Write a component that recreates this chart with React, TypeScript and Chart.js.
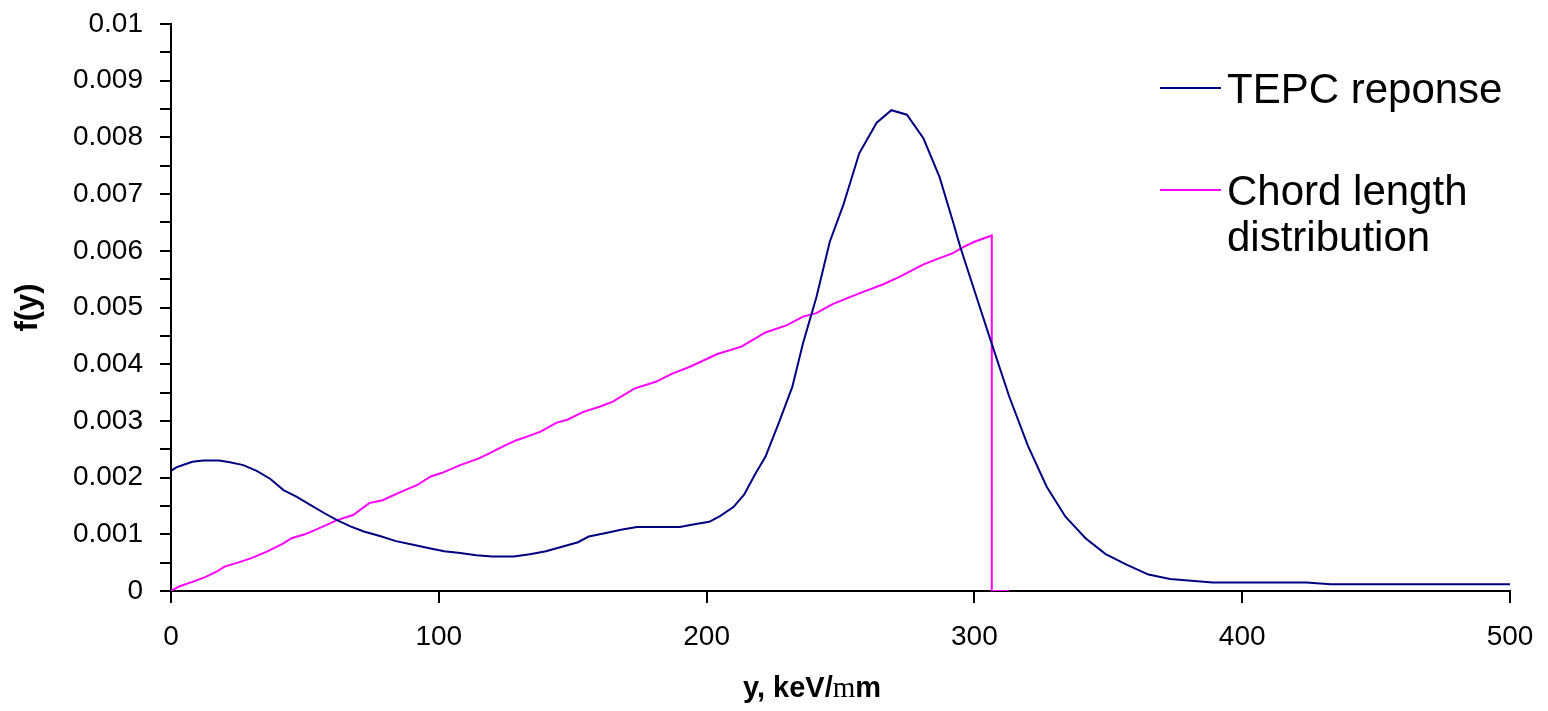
import { useEffect, useRef } from 'react';
import { Chart, registerables } from 'chart.js';

Chart.register(...registerables);

// ---- data ----
const tepcX = [
  0, 2, 5, 8, 12, 18, 22, 27, 32, 37, 42, 47, 52, 57, 62, 67, 72, 78, 84, 90, 96, 102, 108, 114, 120, 128,
  134, 140, 146, 152, 156, 162, 168, 174, 182, 190, 196, 201, 205, 210, 214, 218, 222, 227, 232, 236, 241,
  246, 251, 257, 263.5, 269, 274.8, 281, 287, 292.2, 294.7, 300, 306, 313, 320, 327, 334, 341.5, 349, 357,
  365, 373, 381, 389, 424, 433, 500,
];
const tepcY = [
  0.00212, 0.00218, 0.00223, 0.00228, 0.0023, 0.0023, 0.00227, 0.00222, 0.00212, 0.00198, 0.00178, 0.00166,
  0.00152, 0.00138, 0.00125, 0.00114, 0.00105, 0.00097, 0.00088, 0.00082, 0.00076, 0.0007, 0.00067, 0.00063,
  0.00061, 0.00061, 0.00065, 0.0007, 0.00078, 0.00086, 0.00096, 0.00102, 0.00108, 0.00113, 0.00113, 0.00113,
  0.00118, 0.00122, 0.00132, 0.00148, 0.0017, 0.00205, 0.00237, 0.00297, 0.0036, 0.00437, 0.00518, 0.00616,
  0.0068, 0.00772, 0.00826, 0.00848, 0.0084, 0.00798, 0.0073, 0.00648, 0.00607, 0.0053, 0.00443, 0.00343,
  0.00256, 0.00184, 0.00131, 0.00093, 0.00065, 0.00046, 0.00029, 0.00021, 0.00018, 0.00015, 0.00015,
  0.00012, 0.00012,
];
const chordX = [
  0, 3, 8, 13, 17, 20, 25, 30, 36, 42, 45, 50, 55, 62, 68, 74, 79, 85, 92, 97, 101, 108, 115, 119, 124, 129,
  134, 138, 144, 148, 154, 160, 165, 173, 181, 187, 194, 204, 213, 222, 230, 236, 241, 247, 257, 266, 272,
  281, 287, 292, 296, 300, 306.5, 306.5, 313,
];
const chordY = [
  0, 0.00008, 0.00016, 0.00025, 0.00034, 0.00043, 0.0005, 0.00058, 0.0007, 0.00084, 0.00093, 0.001, 0.0011,
  0.00125, 0.00134, 0.00155, 0.0016, 0.00173, 0.00187, 0.00202, 0.00208, 0.00222, 0.00234, 0.00243, 0.00255,
  0.00266, 0.00274, 0.00281, 0.00297, 0.00302, 0.00316, 0.00325, 0.00334, 0.00357, 0.00369, 0.00383,
  0.00396, 0.00418, 0.00431, 0.00456, 0.00469, 0.00484, 0.0049, 0.00506, 0.00525, 0.00541, 0.00554,
  0.00576, 0.00587, 0.00596, 0.00607, 0.00616, 0.00627, 0, 0,
];
const seriesNames = ['TEPC reponse', 'Chord length distribution'];
const legendLines = [['TEPC reponse'], ['Chord length', 'distribution']];
const xTitleParts = ['y, keV/', 'm', 'm'];
const yTitle = 'f(y)';

const NAVY = '#000080';
const MAGENTA = '#FF00FF';
const SANS = '"Liberation Sans", Arial, sans-serif';
const SERIF = '"Liberation Serif", "Times New Roman", serif';

const legendPlugin = {
  id: 'customLegend',
  afterDraw(chart: any) {
    const ctx = chart.ctx;
    ctx.save();
    ctx.font = `42px ${SANS}`;
    ctx.fillStyle = '#000';
    ctx.textBaseline = 'alphabetic';
    ctx.textAlign = 'left';
    const colors = [NAVY, MAGENTA];
    const lineYs = [88, 190];
    const baselines = [103, 205];
    legendLines.forEach((lines, i) => {
      ctx.strokeStyle = colors[i];
      ctx.lineWidth = 2;
      ctx.beginPath();
      ctx.moveTo(1160, lineYs[i]);
      ctx.lineTo(1221, lineYs[i]);
      ctx.stroke();
      lines.forEach((t, j) => {
        ctx.fillText(t, 1227, baselines[i] + j * 46);
      });
    });
    ctx.restore();
  },
};

const xTitlePlugin = {
  id: 'xTitle',
  afterDraw(chart: any) {
    const ctx = chart.ctx;
    ctx.save();
    const fonts = [`bold 29px ${SANS}`, `29px ${SERIF}`, `bold 29px ${SANS}`];
    const widths = xTitleParts.map((p, i) => {
      ctx.font = fonts[i];
      return ctx.measureText(p).width;
    });
    const total = widths.reduce((a, b) => a + b, 0);
    let x = 812 - total / 2;
    ctx.fillStyle = '#000';
    ctx.textBaseline = 'alphabetic';
    ctx.textAlign = 'left';
    xTitleParts.forEach((p, i) => {
      ctx.font = fonts[i];
      ctx.fillText(p, x, 697);
      x += widths[i];
    });
    ctx.restore();
  },
};

export default function App() {
  const ref = useRef<HTMLCanvasElement | null>(null);

  useEffect(() => {
    document.body.style.margin = '0';
    const canvas = ref.current;
    if (!canvas) return;
    const chart = new Chart(canvas, {
      type: 'line',
      data: {
        datasets: [
          {
            label: seriesNames[0],
            data: tepcX.map((x, i) => ({ x, y: tepcY[i] })),
            borderColor: NAVY,
            backgroundColor: NAVY,
            borderWidth: 2,
            pointRadius: 0,
            tension: 0,
          },
          {
            label: seriesNames[1],
            data: chordX.map((x, i) => ({ x, y: chordY[i] })),
            borderColor: MAGENTA,
            backgroundColor: MAGENTA,
            borderWidth: 2,
            pointRadius: 0,
            tension: 0,
          },
        ],
      },
      options: {
        responsive: false,
        animation: false,
        layout: { padding: { left: 0, right: 38, top: 24, bottom: 0 } },
        plugins: {
          legend: { display: false },
          tooltip: { enabled: false },
        },
        scales: {
          x: {
            type: 'linear',
            min: 0,
            max: 500,
            border: { display: true, color: '#000', width: 2 },
            grid: { drawOnChartArea: false, drawTicks: true, tickLength: 12, color: '#000', lineWidth: 2 },
            ticks: {
              stepSize: 100,
              color: '#000',
              padding: 17,
              maxRotation: 0,
              font: { family: SANS, size: 28 },
            },
            afterFit: (s: any) => {
              s.height = 120;
              s.paddingLeft = 0;
              s.paddingRight = 0;
            },
          },
          y: {
            type: 'linear',
            min: 0,
            max: 0.01,
            border: { display: true, color: '#000', width: 2 },
            grid: { drawOnChartArea: false, drawTicks: true, tickLength: 11, color: '#000', lineWidth: 2 },
            ticks: {
              stepSize: 0.0005,
              autoSkip: false,
              color: '#000',
              padding: 17,
              font: { family: SANS, size: 28 },
              callback: (v: any) => {
                const n = Math.round(Number(v) * 10000);
                if (n % 10 !== 0) return '';
                return String(n / 10000);
              },
            },
            title: {
              display: true,
              text: yTitle,
              color: '#000',
              font: { family: SANS, size: 31, weight: 'bold' },
              padding: { top: 10, bottom: 0 },
            },
            afterFit: (s: any) => {
              s.width = 171;
              s.paddingTop = 0;
              s.paddingBottom = 0;
            },
          },
        },
      },
      plugins: [legendPlugin, xTitlePlugin],
    } as any);
    return () => chart.destroy();
  }, []);

  return <canvas ref={ref} width={1548} height={711} style={{ display: 'block' }} />;
}
